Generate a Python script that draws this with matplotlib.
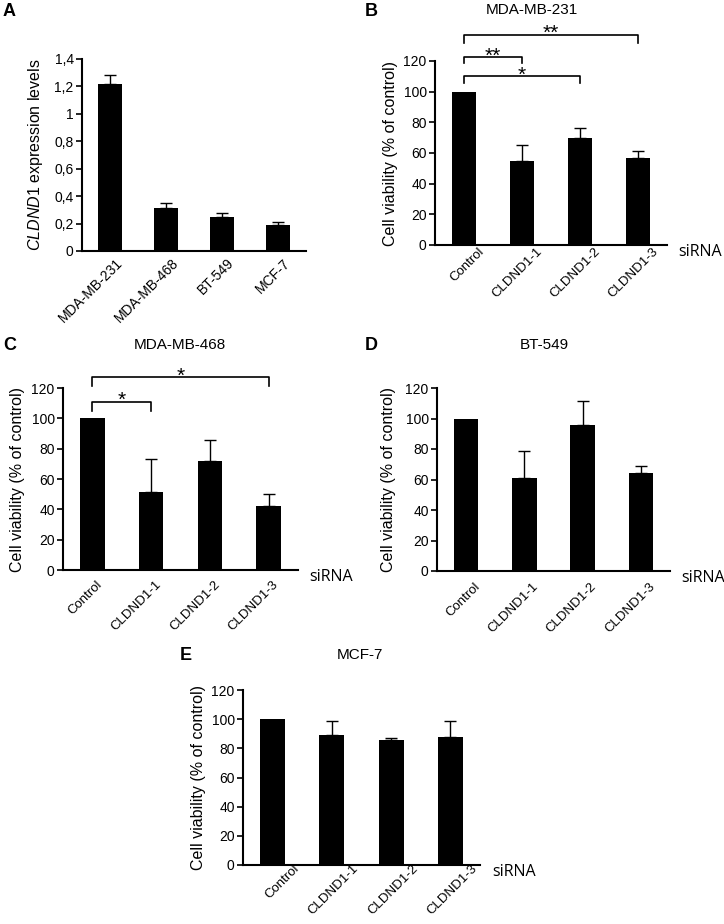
import numpy as np
import matplotlib
matplotlib.use('Agg')
import matplotlib.pyplot as plt
import matplotlib.transforms as mtransforms

plt.rcParams['font.family'] = ['Liberation Sans', 'DejaVu Sans']
plt.rcParams['mathtext.fontset'] = 'custom'
plt.rcParams['mathtext.it'] = 'Liberation Sans:italic'
plt.rcParams['mathtext.rm'] = 'Liberation Sans'

# Panel A data
cell_lines = ['MDA-MB-231', 'MDA-MB-468', 'BT-549', 'MCF-7']
cldnd1_expr = [1.22, 0.31, 0.25, 0.19]
cldnd1_err = [0.065, 0.04, 0.025, 0.02]
expr_ticks = [0, 0.2, 0.4, 0.6, 0.8, 1.0, 1.2, 1.4]
expr_ticklabels = ['0', '0,2', '0,4', '0,6', '0,8', '1', '1,2', '1,4']

# Panels B-E data
sirna = ['Control', 'CLDND1-1', 'CLDND1-2', 'CLDND1-3']
via_231 = [100, 55, 70, 56.5]
err_231 = [0, 10, 6.5, 4.5]
via_468 = [100, 51.5, 72, 42.5]
err_468 = [0, 21.5, 14, 7.5]
via_549 = [100, 61, 96, 64]
err_549 = [0, 17.5, 15.5, 5]
via_mcf7 = [100, 89, 85.5, 88]
err_mcf7 = [0, 10, 1.5, 10.5]

# significance brackets: (from, to, label, bracket y, leg end y)
sig_231 = [(0, 3, '**', 137, 132), (0, 1, '**', 122.5, 118.5), (0, 2, '*', 110, 105.5)]
sig_468 = [(0, 3, '*', 127, 121), (0, 1, '*', 111, 105)]

W, H = 724, 924
fig = plt.figure(figsize=(W / 100, H / 100), dpi=100)


def make_ax(left, top, right, bottom):
    return fig.add_axes([left / W, 1 - bottom / H, (right - left) / W, (bottom - top) / H])


def style_ax(ax, xsize, pad):
    for s in ['top', 'right']:
        ax.spines[s].set_visible(False)
    for s in ['left', 'bottom']:
        ax.spines[s].set_linewidth(1.5)
    ax.tick_params(axis='y', length=4, width=1.2, labelsize=10, pad=2)
    ax.tick_params(axis='x', length=0, labelsize=xsize, pad=pad)
    ax.set_xlim(-0.5, 3.5)


def bars(ax, labels, vals, errs, shift):
    x = np.arange(len(labels))
    ax.bar(x, vals, width=0.42, color='black', zorder=2)
    for xi, v, e in zip(x, vals, errs):
        if e > 0:
            ax.errorbar(xi, v, yerr=[[0], [e]], fmt='none', ecolor='black',
                        elinewidth=1, capsize=4, capthick=1, zorder=1)
    ax.set_xticks(x)
    ax.set_xticklabels(labels, rotation=45, ha='right', va='center', rotation_mode='anchor')
    off = mtransforms.ScaledTranslation(shift / 100, 0, fig.dpi_scale_trans)
    for lab in ax.get_xticklabels():
        lab.set_transform(lab.get_transform() + off)


def viability(ax, vals, errs, ylab_x, shift, pad, sig=()):
    style_ax(ax, 9.5, pad)
    bars(ax, sirna, vals, errs, shift)
    ax.set_ylim(0, 120)
    ax.set_yticks(range(0, 121, 20))
    ax.set_ylabel('Cell viability (% of control)', fontsize=11.5)
    ax.yaxis.set_label_coords(ylab_x, 0.5)
    ax.text(1.05, -0.04, 'siRNA', transform=ax.transAxes, ha='left', va='center',
            fontsize=11.5, family=['Open Sans', 'DejaVu Sans'])
    for a, b, lab, y, y2 in sig:
        ax.plot([a, a, b, b], [y2, y, y, y2], color='black', lw=1.2, clip_on=False)
        ax.annotate(lab, xy=((a + b) / 2, y), xytext=(0, -3), textcoords='offset points',
                    ha='center', va='baseline', fontsize=15, annotation_clip=False)


# A
axA = make_ax(82, 59, 306, 251)
style_ax(axA, 10, 7)
bars(axA, cell_lines, cldnd1_expr, cldnd1_err, 10)
axA.set_ylim(0, 1.4)
axA.set_yticks(expr_ticks)
axA.set_yticklabels(expr_ticklabels)
axA.set_ylabel(r'$\mathit{CLDND1}$ expression levels', fontsize=11.5)
axA.yaxis.set_label_coords(-0.165, 0.5)

# B
axB = make_ax(435, 61, 667, 245)
viability(axB, via_231, err_231, -0.16, 18, 3.5, sig_231)

# C
axC = make_ax(63, 388, 298, 570)
viability(axC, via_468, err_468, -0.16, 8, 9, sig_468)

# D
axD = make_ax(437, 388, 670, 571)
viability(axD, via_549, err_549, -0.178, 12, 10)

# E
axE = make_ax(243, 690, 480, 865)
viability(axE, via_mcf7, err_mcf7, -0.156, 25, 1.5)

# panel letters and titles
letters = [('A', 3, 12), ('B', 365, 11), ('C', 3, 345), ('D', 365, 345), ('E', 180, 655)]
for lab, x, y in letters:
    fig.text(x / W, 1 - y / H, lab, fontsize=13, fontweight='bold', ha='left', va='center')

titles = [('MDA-MB-231', 532, 10), ('MDA-MB-468', 180, 345), ('BT-549', 544, 345), ('MCF-7', 360, 655)]
for lab, x, y in titles:
    fig.text(x / W, 1 - y / H, lab, fontsize=11, ha='center', va='center')

fig.savefig('out.png', dpi=100, facecolor='white')
